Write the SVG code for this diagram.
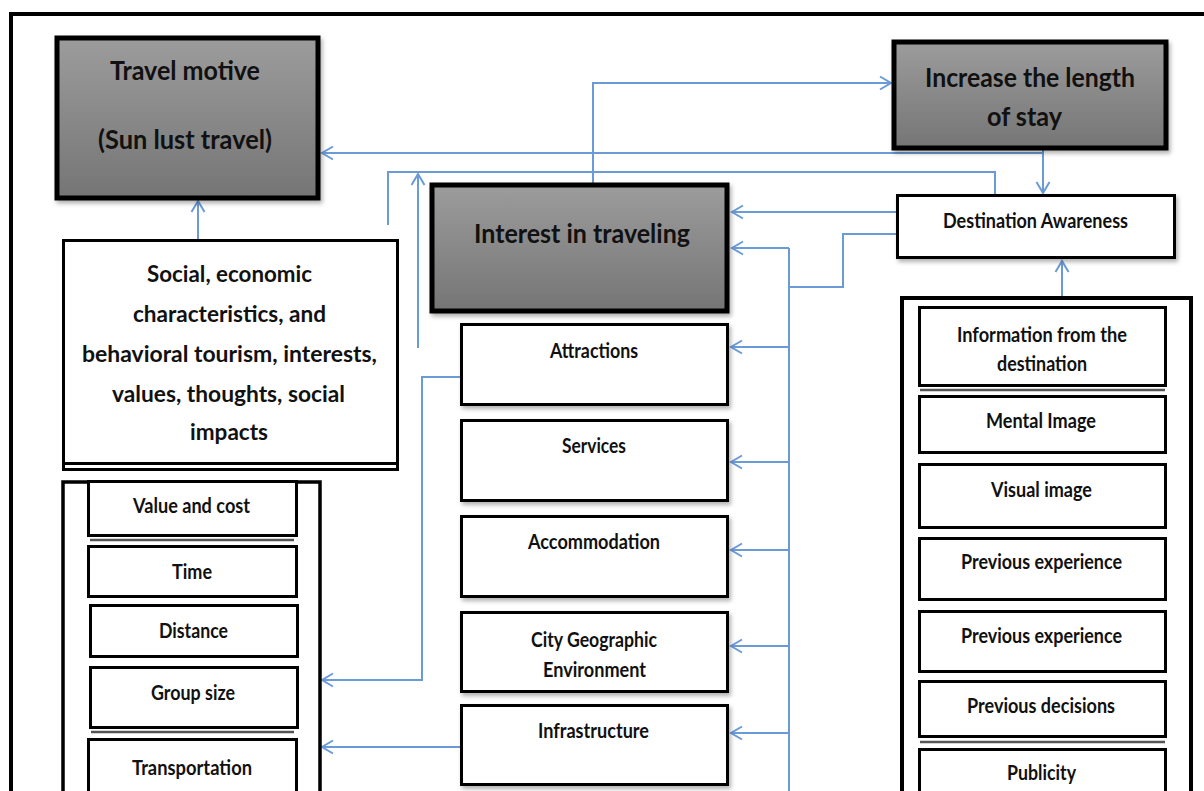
<svg xmlns="http://www.w3.org/2000/svg" width="1204" height="791" viewBox="0 0 1204 791">
<defs>
<linearGradient id="gray" x1="0" y1="0" x2="0" y2="1">
<stop offset="0" stop-color="#9c9c9c"/>
<stop offset="1" stop-color="#757575"/>
</linearGradient>
<filter id="sh" x="-5%" y="-5%" width="115%" height="120%">
<feDropShadow dx="2" dy="3" stdDeviation="2" flood-color="#000" flood-opacity="0.3"/>
</filter>
<marker id="ah" markerUnits="userSpaceOnUse" markerWidth="16" markerHeight="16" viewBox="0 0 16 16" refX="14" refY="8" orient="auto">
<path d="M3,1.5 L14,8 L3,14.5" fill="none" stroke="#6b9bd6" stroke-width="2"/>
</marker>
</defs>
<style>
.frame{fill:#fff;stroke:#000;stroke-width:4}
.big{fill:url(#gray);stroke:#000;stroke-width:5;filter:url(#sh)}
.box{fill:#fff;stroke:#000;stroke-width:3}
.cont{fill:#fff;stroke:#000;stroke-width:3.5}
.dbl{stroke:#555;stroke-width:2.5;fill:none}
text{font-family:Lato,"Liberation Sans",sans-serif;font-weight:bold;fill:#111;text-anchor:middle}
.t1{font-size:26px}
.t2{font-size:22px}
.t3{font-size:20px}
.c{fill:none;stroke:#6b9bd6;stroke-width:2}
.ca{fill:none;stroke:#6b9bd6;stroke-width:2;marker-end:url(#ah)}
</style>
<rect class="frame" x="11" y="14" width="1260" height="860"/>

<g id="connectors">
<path class="ca" d="M198,239 V201"/>
<path class="ca" d="M1043,150 V193"/>
<path class="ca" d="M1043,153 H322"/>
<path class="c" d="M995,194 V172 H388 V225"/>
<path class="ca" d="M418,348 V174"/>
<path class="ca" d="M593,183 V83 H891"/>
<path class="ca" d="M896,212 H732"/>
<path class="c" d="M896,234 H843 V287 H789"/>
<path class="c" d="M789,248 V791"/>
<path class="ca" d="M789,248 H732"/>
<path class="ca" d="M789,347 H731"/>
<path class="ca" d="M789,462 H731"/>
<path class="ca" d="M789,550 H731"/>
<path class="ca" d="M789,646 H731"/>
<path class="ca" d="M789,733 H731"/>
<path class="ca" d="M460,377 H422 V680 H322"/>
<path class="ca" d="M460,747 H322"/>
<path class="ca" d="M1062,297 V261"/>
</g>

<g id="travel-motive">
<rect class="big" x="57" y="38" width="261" height="160"/>
<text class="t1" x="185" y="80" textLength="150" lengthAdjust="spacingAndGlyphs">Travel motive</text>
<text class="t1" x="185" y="149" textLength="174" lengthAdjust="spacingAndGlyphs">(Sun lust travel)</text>
</g>

<g id="interest">
<rect class="big" x="432" y="185" width="295" height="126"/>
<text class="t1" x="582" y="243" textLength="216" lengthAdjust="spacingAndGlyphs" style="font-size:27px">Interest in traveling</text>
</g>

<g id="increase-stay">
<rect class="big" x="894" y="42" width="272" height="106"/>
<text class="t1" x="1030" y="87" textLength="210" lengthAdjust="spacingAndGlyphs" style="font-size:27px">Increase the length</text>
<text class="t1" x="1024.5" y="126" textLength="75" lengthAdjust="spacingAndGlyphs" style="font-size:27px">of stay</text>
</g>

<g id="destination-awareness">
<rect class="box" x="897.5" y="195.5" width="277" height="62" filter="url(#sh)"/>
<text class="t3" x="1035.5" y="228" textLength="185" lengthAdjust="spacingAndGlyphs">Destination Awareness</text>
</g>

<g id="social">
<rect class="box" x="63.5" y="240.5" width="334" height="229"/>
<line class="dbl" x1="64" y1="463.5" x2="397" y2="463.5" style="stroke:#000;stroke-width:3"/>
<text class="t2" x="229.5" y="282" textLength="165" lengthAdjust="spacingAndGlyphs">Social, economic</text>
<text class="t2" x="229.5" y="322" textLength="193" lengthAdjust="spacingAndGlyphs">characteristics, and</text>
<text class="t2" x="229.5" y="362" textLength="295" lengthAdjust="spacingAndGlyphs">behavioral tourism, interests,</text>
<text class="t2" x="228.5" y="402" textLength="233" lengthAdjust="spacingAndGlyphs">values, thoughts, social</text>
<text class="t2" x="229" y="440" textLength="78" lengthAdjust="spacingAndGlyphs">impacts</text>
</g>

<g id="left-factors">
<rect class="cont" x="63" y="482" width="257" height="400"/>
</g>
<g id="value-cost">
<rect class="box" x="88.5" y="481.5" width="208" height="54"/>
<line class="dbl" x1="90" y1="540" x2="294" y2="540"/>
<text class="t3" x="191.5" y="513" textLength="117" lengthAdjust="spacingAndGlyphs">Value and cost</text>
</g>
<g id="time">
<rect class="box" x="88.5" y="546.5" width="208" height="50"/>
<text class="t3" x="192" y="579" textLength="40" lengthAdjust="spacingAndGlyphs">Time</text>
</g>
<g id="distance">
<rect class="box" x="90.5" y="605.5" width="207" height="51"/>
<text class="t3" x="193.5" y="638" textLength="69" lengthAdjust="spacingAndGlyphs">Distance</text>
</g>
<g id="group-size">
<rect class="box" x="90.5" y="667.5" width="207" height="60"/>
<line class="dbl" x1="91" y1="732" x2="294" y2="732"/>
<text class="t3" x="193" y="700" textLength="84" lengthAdjust="spacingAndGlyphs">Group size</text>
</g>
<g id="transportation">
<rect class="box" x="88.5" y="739.5" width="208" height="100"/>
<text class="t3" x="192" y="775" textLength="120" lengthAdjust="spacingAndGlyphs">Transportation</text>
</g>

<g id="attractions">
<rect class="box" x="461.5" y="324.5" width="266" height="80" filter="url(#sh)"/>
<text class="t3" x="594" y="358" textLength="88" lengthAdjust="spacingAndGlyphs">Attractions</text>
</g>
<g id="services">
<rect class="box" x="461.5" y="420.5" width="266" height="80" filter="url(#sh)"/>
<text class="t3" x="594" y="453" textLength="64" lengthAdjust="spacingAndGlyphs">Services</text>
</g>
<g id="accommodation">
<rect class="box" x="461.5" y="516.5" width="266" height="80" filter="url(#sh)"/>
<text class="t3" x="594" y="549" textLength="132" lengthAdjust="spacingAndGlyphs">Accommodation</text>
</g>
<g id="city-geographic">
<rect class="box" x="461.5" y="612.5" width="266" height="79" filter="url(#sh)"/>
<text class="t3" x="594" y="647" textLength="126" lengthAdjust="spacingAndGlyphs">City Geographic</text>
<text class="t3" x="594.5" y="677" textLength="103" lengthAdjust="spacingAndGlyphs">Environment</text>
</g>
<g id="infrastructure">
<rect class="box" x="461.5" y="705.5" width="266" height="79" filter="url(#sh)"/>
<text class="t3" x="593.5" y="738" textLength="111" lengthAdjust="spacingAndGlyphs">Infrastructure</text>
</g>

<g id="right-factors">
<rect class="cont" x="902" y="298" width="289" height="600" style="stroke-width:4"/>
</g>
<g id="info-destination">
<rect class="box" x="919.5" y="307.5" width="246" height="78"/>
<line class="dbl" x1="920" y1="390" x2="1165" y2="390"/>
<text class="t3" x="1042" y="342" textLength="170" lengthAdjust="spacingAndGlyphs">Information from the</text>
<text class="t3" x="1042" y="371" textLength="90" lengthAdjust="spacingAndGlyphs">destination</text>
</g>
<g id="mental-image">
<rect class="box" x="919.5" y="396.5" width="246" height="56"/>
<text class="t3" x="1041" y="428" textLength="110" lengthAdjust="spacingAndGlyphs">Mental Image</text>
</g>
<g id="visual-image">
<rect class="box" x="919.5" y="464.5" width="246" height="63"/>
<text class="t3" x="1041.5" y="497" textLength="101" lengthAdjust="spacingAndGlyphs">Visual image</text>
</g>
<g id="previous-experience-1">
<rect class="box" x="919.5" y="538.5" width="246" height="61"/>
<text class="t3" x="1041.5" y="569" textLength="161" lengthAdjust="spacingAndGlyphs">Previous experience</text>
</g>
<g id="previous-experience-2">
<rect class="box" x="919.5" y="611.5" width="246" height="60"/>
<text class="t3" x="1041.5" y="643" textLength="161" lengthAdjust="spacingAndGlyphs">Previous experience</text>
</g>
<g id="previous-decisions">
<rect class="box" x="919.5" y="681.5" width="246" height="55"/>
<line class="dbl" x1="920" y1="742" x2="1165" y2="742"/>
<text class="t3" x="1041" y="713" textLength="148" lengthAdjust="spacingAndGlyphs">Previous decisions</text>
</g>
<g id="publicity">
<rect class="box" x="919.5" y="749.5" width="246" height="100"/>
<text class="t3" x="1041.5" y="780" textLength="69" lengthAdjust="spacingAndGlyphs">Publicity</text>
</g>
</svg>
